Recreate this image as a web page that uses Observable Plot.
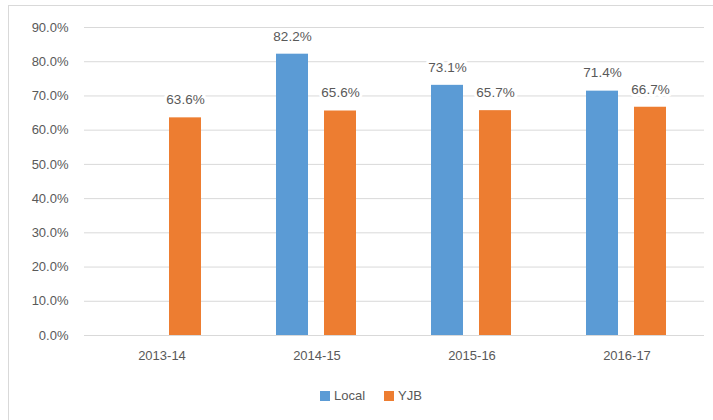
<!DOCTYPE html>
<html>
<head>
<meta charset="utf-8">
<script src="https://cdn.jsdelivr.net/npm/d3@7"></script>
<script src="https://cdn.jsdelivr.net/npm/@observablehq/plot@0.6"></script>
<style>
  html, body { margin: 0; padding: 0; background: #fff; }
  #wrap { position: relative; width: 713px; height: 420px; overflow: hidden; font-family: "Liberation Sans", Arial, sans-serif; }
  #frame { position: absolute; left: 8px; top: 5px; width: 720px; height: 430px; border: 1px solid #d9d9d9; box-sizing: border-box; }
  #chart { position: absolute; left: 0; top: 0; }
  .leg { position: absolute; top: 389px; font-size: 13px; color: #595959; display: flex; align-items: center; line-height: 14px; }
  .sw { width: 10px; height: 10px; margin-right: 4px; display: inline-block; }
</style>
</head>
<body>
<div id="wrap">
  <div id="frame"></div>
  <div id="chart"></div>
  <div id="legend"></div>
</div>
<script>
const years = ["2013-14", "2014-15", "2015-16", "2016-17"];
const series = ["Local", "YJB"];
const localValues = [null, 82.2, 73.1, 71.4];
const yjbValues = [63.6, 65.6, 65.7, 66.7];
const yTicks = [0, 10, 20, 30, 40, 50, 60, 70, 80, 90];
const colors = ["#5B9BD5", "#ED7D31"];

const data = [];
years.forEach((y, i) => {
  if (localValues[i] != null) data.push({year: y, series: "Local", value: localValues[i]});
  if (yjbValues[i] != null) data.push({year: y, series: "YJB", value: yjbValues[i]});
});

const chart = Plot.plot({
  width: 713,
  height: 370,
  marginLeft: 83,
  marginRight: 8,
  marginTop: 27,
  marginBottom: 35,
  style: {fontFamily: "'Liberation Sans', Arial, sans-serif", fontSize: "13px", color: "#595959", background: "transparent"},
  fx: {domain: years, padding: 0, label: null},
  x: {domain: series, paddingInner: 0.327, paddingOuter: 0.75, axis: null},
  y: {domain: [0, 90], label: null},
  color: {domain: series, range: colors},
  marks: [
    Plot.gridY(yTicks, {stroke: "#d9d9d9", strokeOpacity: 1, strokeWidth: 1}),
    Plot.axisY(yTicks, {tickSize: 0, tickPadding: 16, tickFormat: d => d.toFixed(1) + "%", fill: "#595959", label: null, fontSize: 13}),
    Plot.axisFx({anchor: "bottom", tickSize: 0, tickPadding: 15, label: null, fill: "#595959", fontSize: 13}),
    Plot.barY(data, {fx: "year", x: "series", y: "value", fill: "series"}),
    Plot.text(data, {fx: "year", x: "series", y: "value", text: d => d.value.toFixed(1) + "%", dy: -18, fill: "#595959", stroke: "white", strokeWidth: 6, paintOrder: "stroke", fontSize: 13.5})
  ]
});
document.getElementById("chart").appendChild(chart);

const legend = document.getElementById("legend");
const legX = [320, 384];
series.forEach((s, i) => {
  const item = document.createElement("div");
  item.className = "leg";
  item.style.left = legX[i] + "px";
  const sw = document.createElement("span");
  sw.className = "sw";
  sw.style.background = colors[i];
  item.appendChild(sw);
  item.appendChild(document.createTextNode(s));
  legend.appendChild(item);
});
</script>
</body>
</html>
